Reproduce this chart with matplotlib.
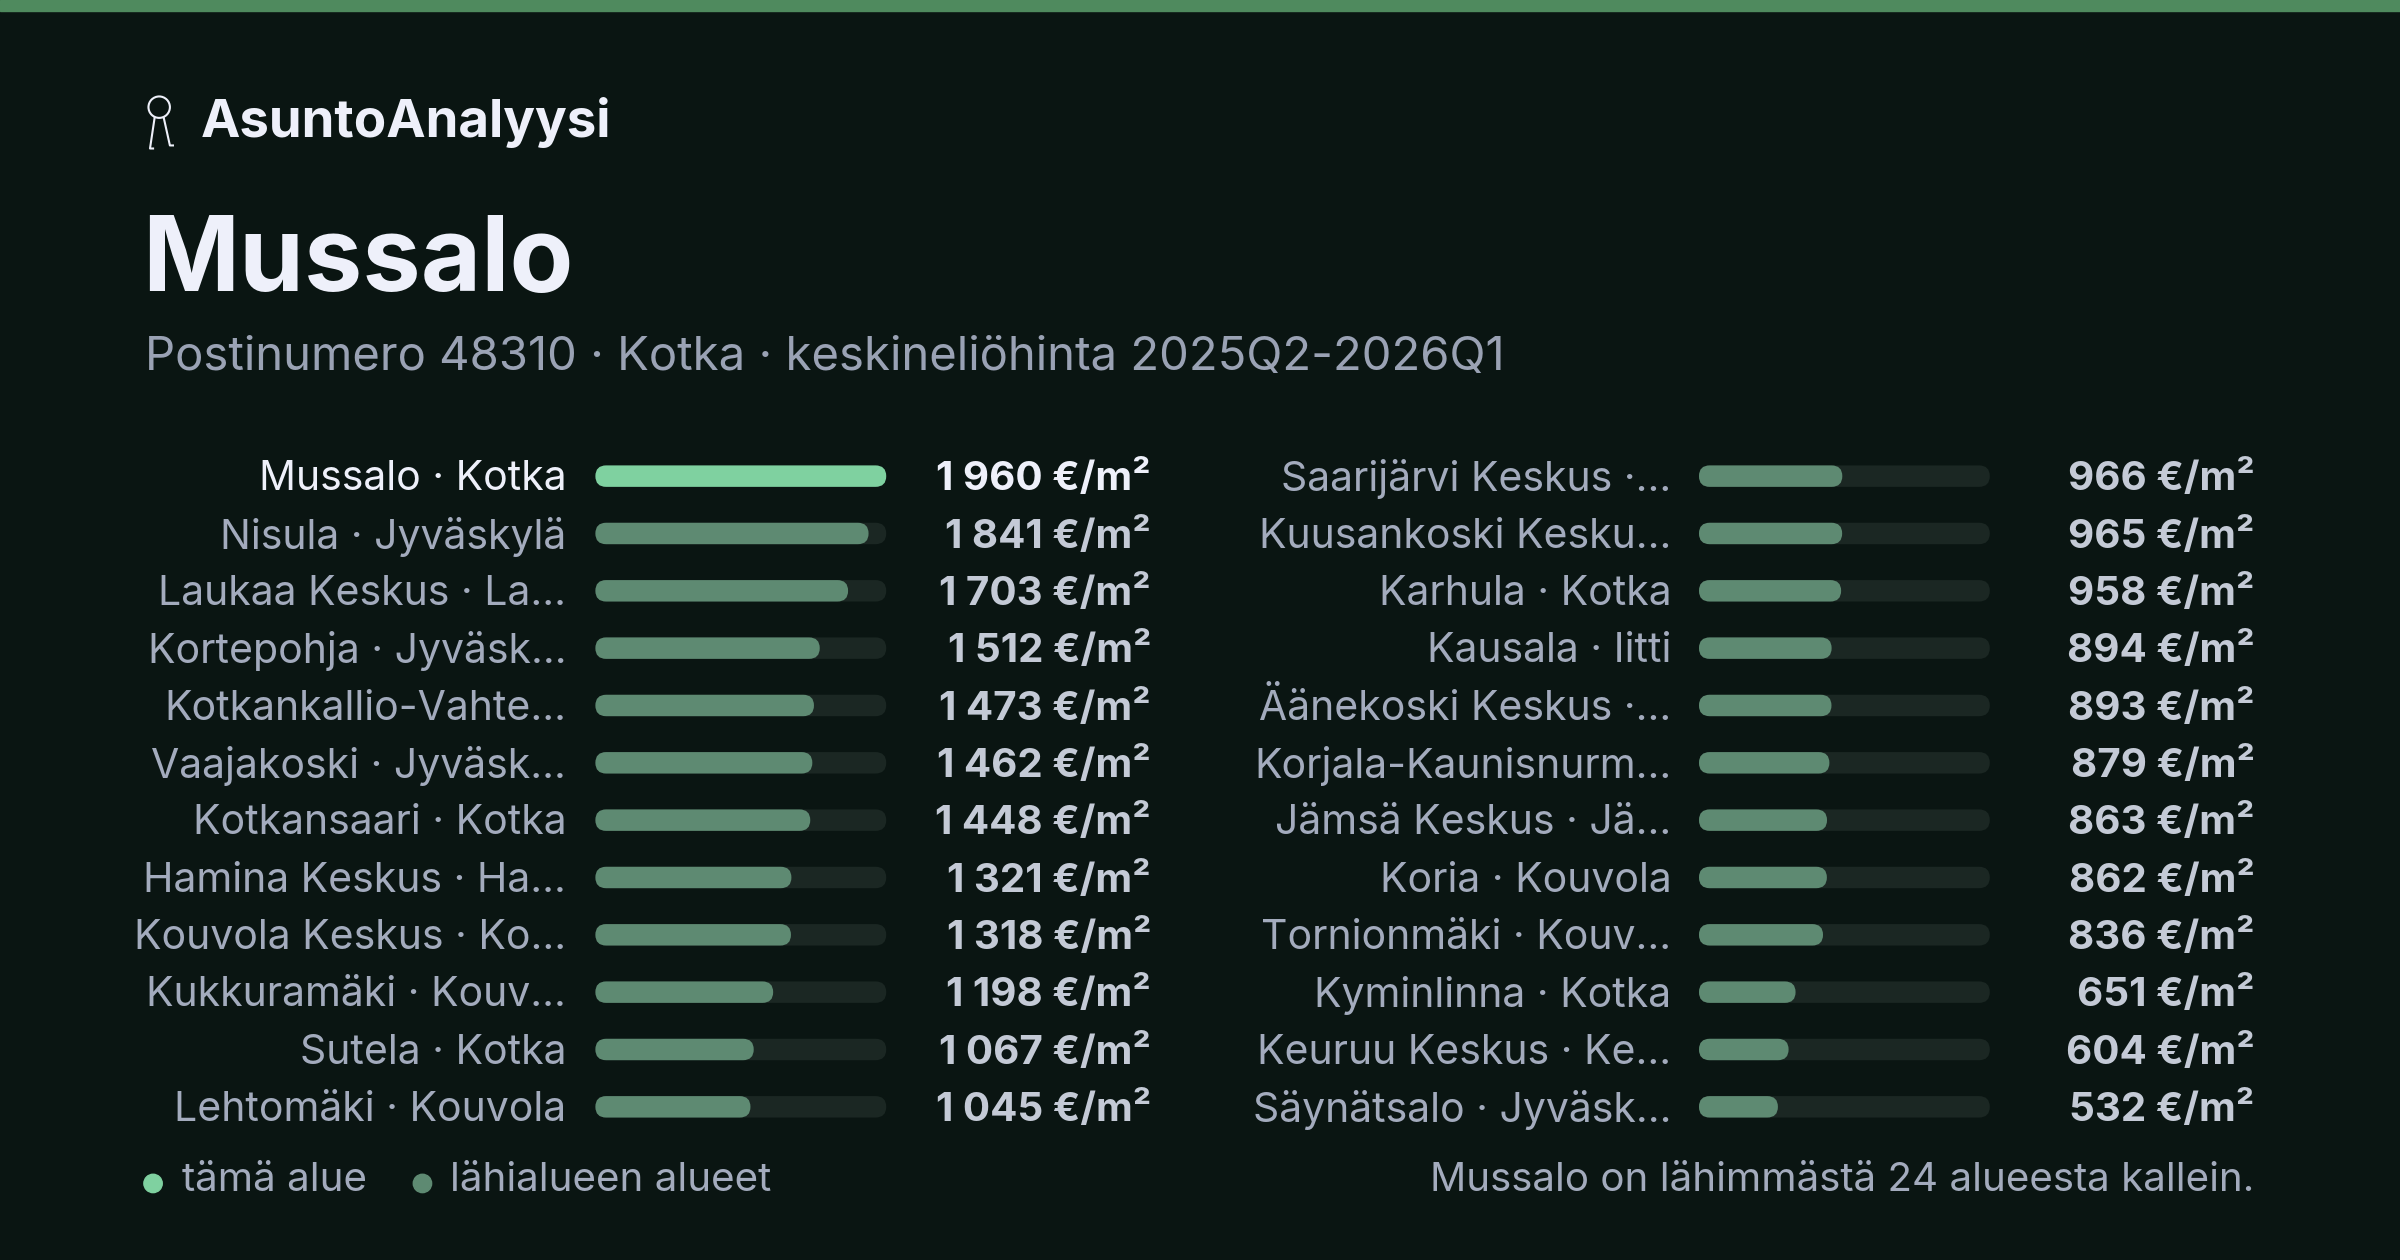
import matplotlib
matplotlib.use('Agg')
import matplotlib.pyplot as plt
from matplotlib.patches import FancyBboxPatch, Circle, Rectangle

plt.rcParams['font.family'] = ['Inter', 'DejaVu Sans']

# data
left_labels = ['Mussalo · Kotka', 'Nisula · Jyväskylä', 'Laukaa Keskus · La…',
               'Kortepohja · Jyväsk…', 'Kotkankallio-Vahte…', 'Vaajakoski · Jyväsk…',
               'Kotkansaari · Kotka', 'Hamina Keskus · Ha…', 'Kouvola Keskus · Ko…',
               'Kukkuramäki · Kouv…', 'Sutela · Kotka', 'Lehtomäki · Kouvola']
left_values = [1960, 1841, 1703, 1512, 1473, 1462, 1448, 1321, 1318, 1198, 1067, 1045]
right_labels = ['Saarijärvi Keskus ·…', 'Kuusankoski Kesku…', 'Karhula · Kotka',
                'Kausala · Iitti', 'Äänekoski Keskus ·…', 'Korjala-Kaunisnurm…',
                'Jämsä Keskus · Jä…', 'Koria · Kouvola', 'Tornionmäki · Kouv…',
                'Kyminlinna · Kotka', 'Keuruu Keskus · Ke…', 'Säynätsalo · Jyväsk…']
right_values = [966, 965, 958, 894, 893, 879, 863, 862, 836, 651, 604, 532]
highlight = 'Mussalo · Kotka'

BG = '#0a1512'
HI = '#7fd1a0'
BAR = '#5e8a72'
TRACK = '#1b2723'
GREY = '#a3abbd'
WHITE = '#eef0fa'
VAL = '#c4cad6'

fig = plt.figure(figsize=(24, 12.6), dpi=100, facecolor=BG)
ax = fig.add_axes([0, 0, 1, 1])
ax.set_xlim(0, 1568)
ax.set_ylim(823, 0)
ax.axis('off')
ax.set_facecolor(BG)

ax.add_patch(Rectangle((0, 0), 1568, 7, color='#4f8a5e'))

# key icon
ax.add_patch(Circle((104, 70), 7, fill=False, ec=WHITE, lw=1.5))
ax.plot([101, 98, 100], [77, 97, 97], color=WHITE, lw=1.5)
ax.plot([107, 111, 113], [77, 95, 95], color=WHITE, lw=1.5)
ax.text(131, 80, 'AsuntoAnalyysi', color=WHITE, fontsize=38, fontweight='bold', va='center')
ax.text(93, 172, 'Mussalo', color=WHITE, fontsize=75, fontweight='bold', va='center')
ax.text(95, 234, 'Postinumero 48310 · Kotka · keskineliöhinta 2025Q2-2026Q1',
        color='#9aa2b4', fontsize=34, va='center')

vmax = max(left_values + right_values)
y0, dy, bh, tw = 311, 37.45, 14, 190


def column(labels, values, lab_x, bar_x, val_x):
    for i, (lab, v) in enumerate(zip(labels, values)):
        y = y0 + i * dy
        hi = lab == highlight
        ax.text(lab_x, y + 2, lab, color=WHITE if hi else GREY, fontsize=29.5,
                ha='right', va='center')
        ax.add_patch(FancyBboxPatch((bar_x, y - bh / 2), tw, bh,
                                    boxstyle='round,pad=0,rounding_size=7',
                                    fc=TRACK, ec='none'))
        ax.add_patch(FancyBboxPatch((bar_x, y - bh / 2), tw * v / vmax, bh,
                                    boxstyle='round,pad=0,rounding_size=7',
                                    fc=HI if hi else BAR, ec='none'))
        txt = f'{v:,}'.replace(',', ' ') + ' €/m²'
        ax.text(val_x, y + 2, txt, color=WHITE if hi else VAL, fontsize=29,
                fontweight='bold', ha='right', va='center')


column(left_labels, left_values, 370, 389, 752)
column(right_labels, right_values, 1092, 1110, 1473)

ax.add_patch(Circle((100, 773), 6, color=HI))
ax.text(119, 771, 'tämä alue', color=GREY, fontsize=29, va='center')
ax.add_patch(Circle((276, 773), 6, color=BAR))
ax.text(294, 771, 'lähialueen alueet', color=GREY, fontsize=29, va='center')
ax.text(1473, 771, 'Mussalo on lähimmästä 24 alueesta kallein.', color=GREY,
        fontsize=29, ha='right', va='center')

fig.savefig('out.png', dpi=100, facecolor=BG)
